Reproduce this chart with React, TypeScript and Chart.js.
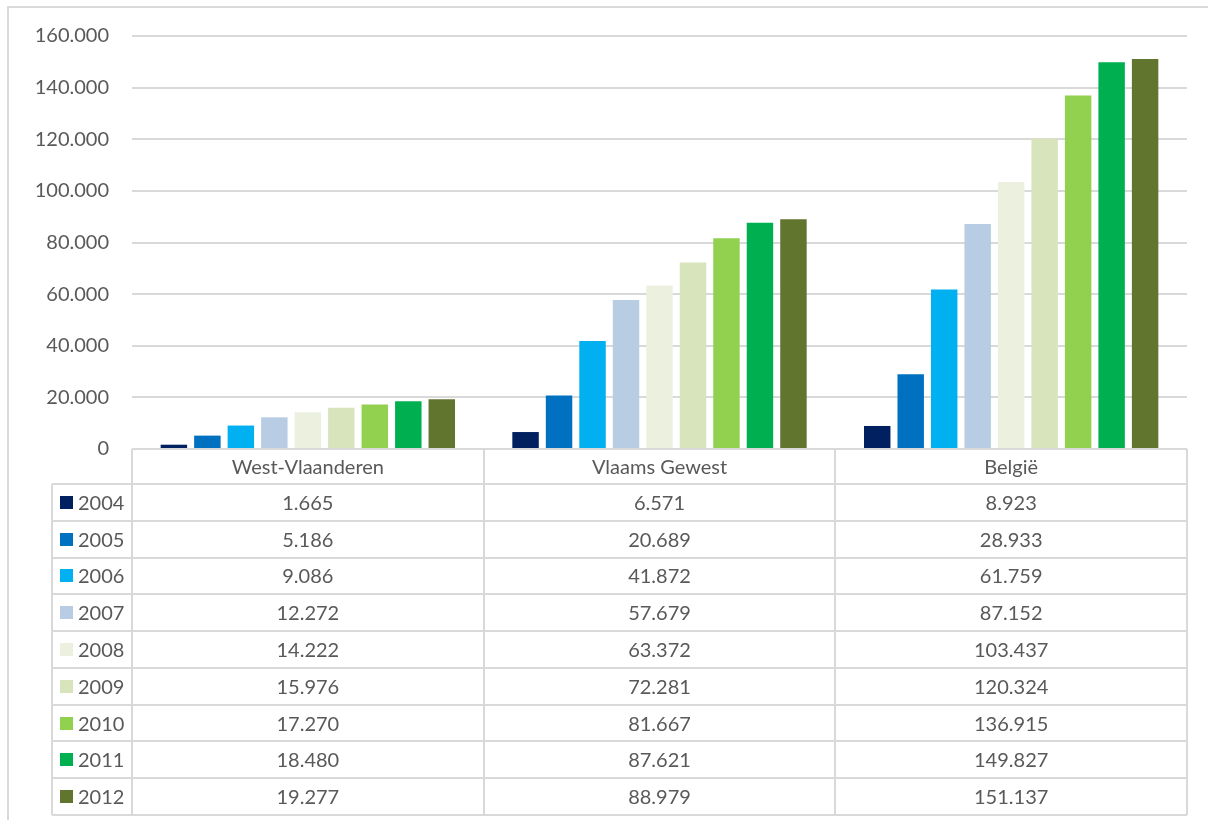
import React, { useEffect, useRef } from "react";
import { Chart, registerables } from "chart.js";

Chart.register(...registerables);

const regions = ["West-Vlaanderen", "Vlaams Gewest", "België"];
const years = ["2004", "2005", "2006", "2007", "2008", "2009", "2010", "2011", "2012"];
const colors = ["#002060", "#0070C0", "#00B0F0", "#B8CCE4", "#EBF1DE", "#D8E4BC", "#92D050", "#00B050", "#62752F"];

const v2004 = [1665, 6571, 8923];
const v2005 = [5186, 20689, 28933];
const v2006 = [9086, 41872, 61759];
const v2007 = [12272, 57679, 87152];
const v2008 = [14222, 63372, 103437];
const v2009 = [15976, 72281, 120324];
const v2010 = [17270, 81667, 136915];
const v2011 = [18480, 87621, 149827];
const v2012 = [19277, 88979, 151137];
const seriesValues = [v2004, v2005, v2006, v2007, v2008, v2009, v2010, v2011, v2012];

const yMin = 0;
const yMax = 160000;
const yStep = 20000;

const FONT = "Lato, 'Open Sans', sans-serif";
const TEXT = "#595959";
const LINE = "#D9D9D9";

function fmt(n: number): string {
  return String(n).replace(/\B(?=(\d{3})+(?!\d))/g, ".");
}

const tablePlugin = {
  id: "dataTable",
  beforeDraw(chart: any) {
    const ctx = chart.ctx;
    ctx.save();
    ctx.fillStyle = "#ffffff";
    ctx.fillRect(0, 0, chart.width, chart.height);
    ctx.strokeStyle = LINE;
    ctx.lineWidth = 2;
    ctx.beginPath();
    ctx.moveTo(8, chart.height);
    ctx.lineTo(8, 7);
    ctx.lineTo(chart.width, 7);
    ctx.stroke();
    ctx.restore();
  },
  afterDraw(chart: any) {
    const { ctx, chartArea, scales } = chart;
    const xs = scales.x;
    const left = chartArea.left;
    const right = chartArea.right;
    const top0 = chartArea.bottom;
    const headerBottom = top0 + 35;
    const tableBottom = 815;
    const rowH = (tableBottom - headerBottom) / years.length;
    const legendLeft = 52;
    const catW = (right - left) / regions.length;

    ctx.save();
    ctx.strokeStyle = LINE;
    ctx.lineWidth = 2;
    // horizontal lines
    ctx.beginPath();
    ctx.moveTo(left, top0);
    ctx.lineTo(right, top0);
    for (let r = 0; r <= years.length; r++) {
      const y = Math.round(headerBottom + r * rowH);
      ctx.moveTo(legendLeft, y);
      ctx.lineTo(right, y);
    }
    // vertical lines
    ctx.moveTo(legendLeft, headerBottom);
    ctx.lineTo(legendLeft, tableBottom);
    for (let i = 0; i <= regions.length; i++) {
      const x = Math.round(left + i * catW);
      ctx.moveTo(x, top0);
      ctx.lineTo(x, tableBottom);
    }
    ctx.stroke();

    ctx.fillStyle = TEXT;
    ctx.font = `20px ${FONT}`;
    ctx.textBaseline = "middle";
    ctx.textAlign = "center";
    regions.forEach((name, i) => {
      const cx = xs.getPixelForValue(i);
      ctx.fillText(name, cx, (top0 + headerBottom) / 2 + 1);
    });

    years.forEach((yr, r) => {
      const cy = headerBottom + r * rowH + rowH / 2;
      ctx.fillStyle = colors[r];
      ctx.fillRect(60, Math.round(cy - 6.5), 13, 13);
      ctx.fillStyle = TEXT;
      ctx.textAlign = "left";
      ctx.fillText(yr, 78, cy + 1);
      ctx.textAlign = "center";
      seriesValues[r].forEach((v, i) => {
        ctx.fillText(fmt(v), xs.getPixelForValue(i), cy + 1);
      });
    });
    ctx.restore();
  },
};

export default function App() {
  const ref = useRef<HTMLCanvasElement | null>(null);

  useEffect(() => {
    if (!ref.current) return;
    const chart = new Chart(ref.current, {
      type: "bar",
      data: {
        labels: regions,
        datasets: years.map((yr, i) => ({
          label: yr,
          data: seriesValues[i],
          backgroundColor: colors[i],
          borderWidth: 0,
          categoryPercentage: 0.857,
          barPercentage: 0.79,
        })),
      },
      options: {
        responsive: false,
        animation: false,
        layout: { padding: { left: 8, top: 36, right: 21, bottom: 371 } },
        plugins: {
          legend: { display: false },
          title: { display: false },
          tooltip: { enabled: false },
        },
        scales: {
          x: { display: false },
          y: {
            min: yMin,
            max: yMax,
            afterFit: (scale: any) => {
              scale.width = 124;
            },
            ticks: {
              stepSize: yStep,
              padding: 23,
              color: TEXT,
              font: { family: FONT, size: 20 },
              callback: (v: any) => fmt(Number(v)),
            },
            grid: { color: LINE, lineWidth: 2, drawTicks: false },
            border: { display: false },
          },
        },
      },
      plugins: [tablePlugin],
    });
    return () => chart.destroy();
  }, []);

  return (
    <div style={{ position: "absolute", left: 0, top: 0, width: 1208, height: 820 }}>
      <canvas ref={ref} width={1208} height={820} style={{ display: "block" }} />
    </div>
  );
}
